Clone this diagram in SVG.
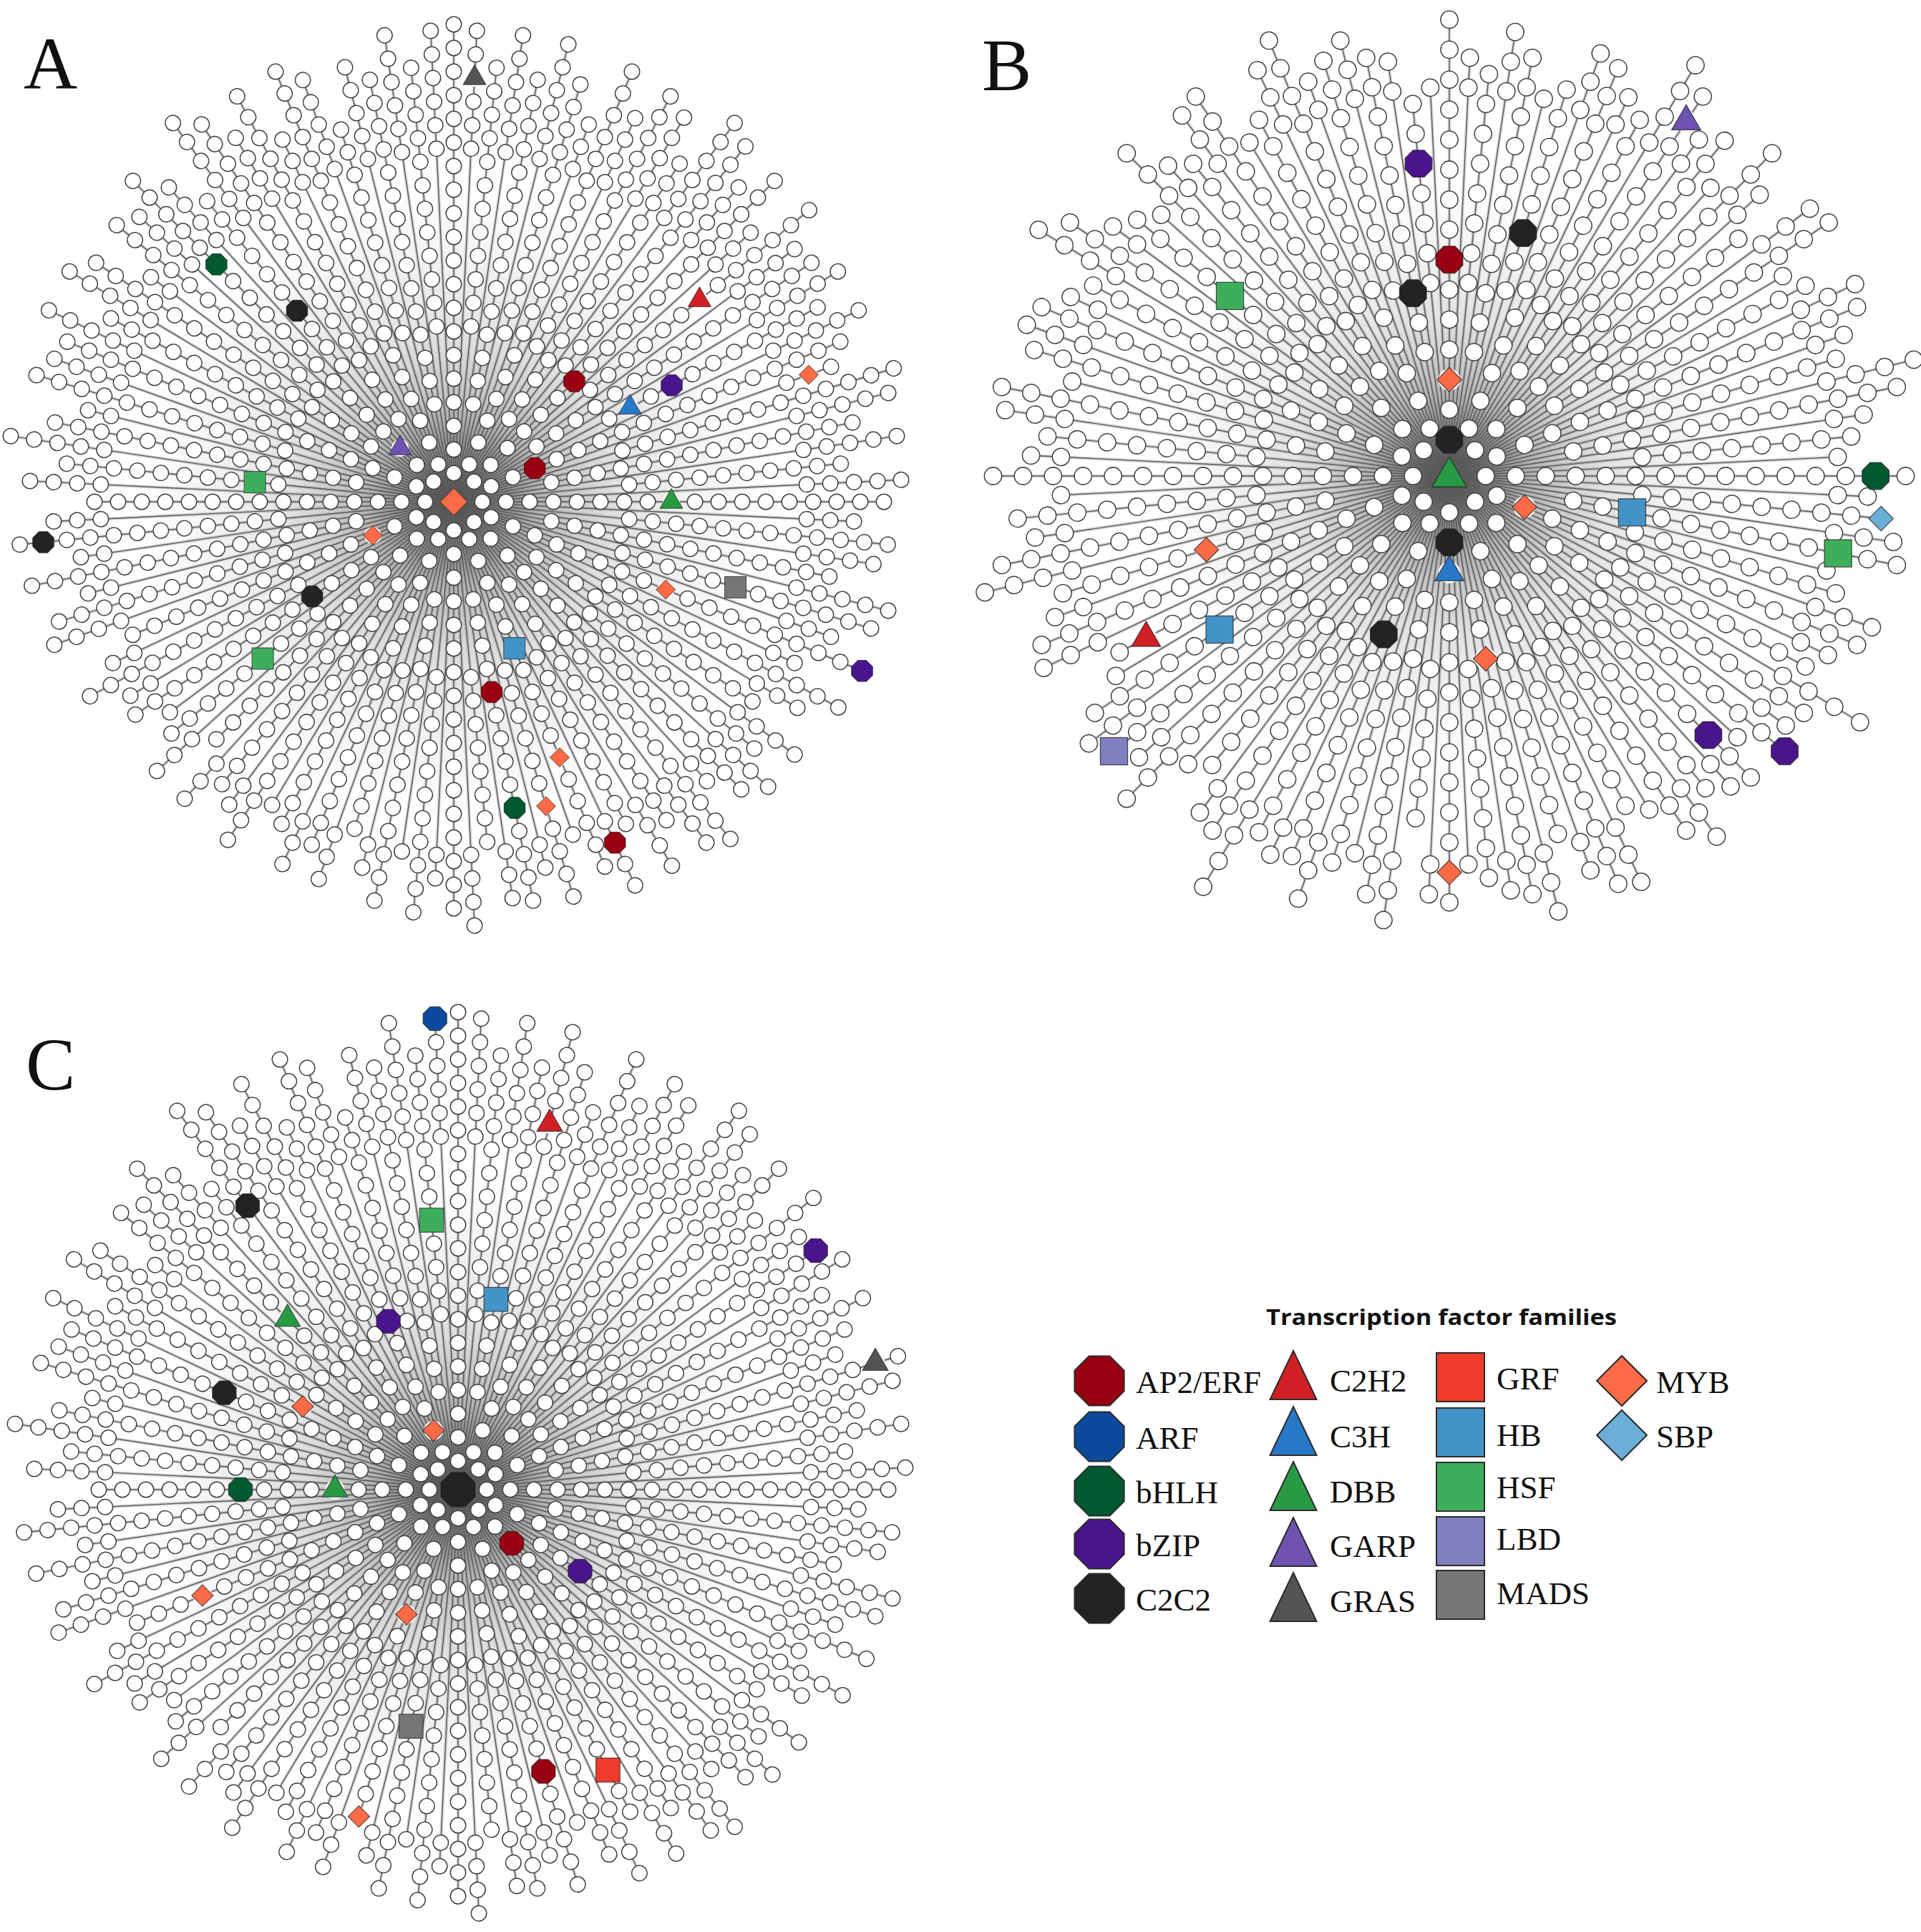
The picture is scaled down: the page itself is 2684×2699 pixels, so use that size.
<svg xmlns="http://www.w3.org/2000/svg" width="2684" height="2699" viewBox="0 0 2684 2699">
<style>
text{font-family:"Liberation Serif","Times New Roman",serif;fill:#111;stroke:none}
.lab{font-size:45px}
.pl{font-size:104px}
.ttl{font-family:"Open Sans","Liberation Sans",Arial,sans-serif;font-weight:700;font-size:31px}
.bund{stroke:#8a8a8a;stroke-width:4.5;stroke-opacity:.33;fill:none}
.conn{stroke:#585858;stroke-width:1.4;fill:none}
.bB{stroke-width:3.6}
.bC{stroke-width:1.1}
.nO,.nF{stroke-linecap:round;fill:none;stroke-dasharray:0 33 0 33 0 33 0 33 0 33 0 33 0 33 0 33 0 33 0 33 0 33 0 33 0 33 0 33 0 33 0 33 0 33 0 33 0 33 0 1000}
.nO{stroke:#424242;stroke-width:23}
.nF{stroke:#fff;stroke-width:20}
.bO{stroke-width:20.3}
.bF{stroke-width:17.9}
.l0{stroke-dashoffset:1587}
.l1{stroke-dashoffset:1570.5}
.l2{stroke-dashoffset:1488}
.l3{stroke-dashoffset:1380.75}
.l4{stroke-dashoffset:1133.25}
.m3{stroke-dashoffset:1413.75}
.m4{stroke-dashoffset:1199.25}
.tf{stroke:#222;stroke-width:1;stroke-opacity:.75}
.lg{stroke:#2b2b2b;stroke-width:2}
</style>
<defs>
<radialGradient id="fz"><stop offset="0" stop-color="#2a2a2a" stop-opacity="1"/><stop offset=".1" stop-color="#404040" stop-opacity=".8"/><stop offset=".25" stop-color="#707070" stop-opacity=".5"/><stop offset=".5" stop-color="#909090" stop-opacity=".26"/><stop offset=".8" stop-color="#b0b0b0" stop-opacity=".1"/><stop offset="1" stop-color="#fff" stop-opacity="0"/></radialGradient>
<polygon id="oct" points="14.8,6.1 6.1,14.8 -6.1,14.8 -14.8,6.1 -14.8,-6.1 -6.1,-14.8 6.1,-14.8 14.8,-6.1"/>
<g id="tri"><circle r="12" fill="#fff" stroke="none"/><polygon points="0,-18.5 16,9.2 -16,9.2"/></g>
<rect id="sq" x="-15" y="-15" width="30" height="30"/>
<g id="dia"><circle r="12" fill="#fff" stroke="none"/><polygon points="0,-13.5 13.5,0 0,13.5 -13.5,0"/></g>
<polygon id="loct" points="34.6,14.4 14.4,34.6 -14.4,34.6 -34.6,14.4 -34.6,-14.4 -14.4,-34.6 14.4,-34.6 34.6,-14.4"/>
<polygon id="ltri" points="0,-36 32.5,32 -32.5,32"/>
<rect id="lsq" x="-33.5" y="-34" width="67" height="68"/>
<polygon id="ldia" points="0,-35 35,0 0,35 -35,0"/>
<g id="rA">
<line class="l0" x2="601.5"/>
<line class="l4" x2="560.25" transform="rotate(2.81)"/>
<line class="l3" x2="609.75" transform="rotate(5.63)"/>
<line class="l4" x2="593.25" transform="rotate(8.44)"/>
<line class="l2" x2="535.5" transform="rotate(11.25)"/>
<line class="l4" x2="626.25" transform="rotate(14.06)"/>
<line class="l3" x2="609.75" transform="rotate(16.88)"/>
<line class="l4" x2="560.25" transform="rotate(19.69)"/>
<line class="l1" x2="618" transform="rotate(22.5)"/>
<line class="l4" x2="527.25" transform="rotate(25.31)"/>
<line class="l3" x2="609.75" transform="rotate(28.13)"/>
<line class="l4" x2="560.25" transform="rotate(30.94)"/>
<line class="l2" x2="502.5" transform="rotate(33.75)"/>
<line class="l4" x2="593.25" transform="rotate(36.56)"/>
<line class="l3" x2="543.75" transform="rotate(39.38)"/>
<line class="l4" x2="593.25" transform="rotate(42.19)"/>
<line class="l0" x2="568.5" transform="rotate(45)"/>
<line class="l4" x2="527.25" transform="rotate(47.81)"/>
<line class="l3" x2="609.75" transform="rotate(50.63)"/>
<line class="l4" x2="593.25" transform="rotate(53.44)"/>
<line class="l2" x2="535.5" transform="rotate(56.25)"/>
<line class="l4" x2="593.25" transform="rotate(59.06)"/>
<line class="l3" x2="510.75" transform="rotate(61.88)"/>
<line class="l4" x2="593.25" transform="rotate(64.69)"/>
<line class="l1" x2="552" transform="rotate(67.5)"/>
<line class="l4" x2="494.25" transform="rotate(70.31)"/>
<line class="l3" x2="576.75" transform="rotate(73.13)"/>
<line class="l4" x2="527.25" transform="rotate(75.94)"/>
<line class="l2" x2="568.5" transform="rotate(78.75)"/>
<line class="l4" x2="560.25" transform="rotate(81.56)"/>
<line class="l3" x2="477.75" transform="rotate(84.38)"/>
<line class="l4" x2="593.25" transform="rotate(87.19)"/>
<line class="l0" x2="568.5" transform="rotate(90)"/>
<line class="l4" x2="527.25" transform="rotate(92.81)"/>
<line class="l3" x2="576.75" transform="rotate(95.63)"/>
<line class="l4" x2="494.25" transform="rotate(98.44)"/>
<line class="l2" x2="568.5" transform="rotate(101.25)"/>
<line class="l4" x2="527.25" transform="rotate(104.06)"/>
<line class="l3" x2="477.75" transform="rotate(106.88)"/>
<line class="l4" x2="560.25" transform="rotate(109.69)"/>
<line class="l1" x2="519" transform="rotate(112.5)"/>
<line class="l4" x2="560.25" transform="rotate(115.31)"/>
<line class="l3" x2="510.75" transform="rotate(118.13)"/>
<line class="l4" x2="494.25" transform="rotate(120.94)"/>
<line class="l2" x2="568.5" transform="rotate(123.75)"/>
<line class="l4" x2="527.25" transform="rotate(126.56)"/>
<line class="l3" x2="510.75" transform="rotate(129.38)"/>
<line class="l4" x2="560.25" transform="rotate(132.19)"/>
<line class="l0" x2="469.5" transform="rotate(135)"/>
<line class="l4" x2="560.25" transform="rotate(137.81)"/>
<line class="l3" x2="510.75" transform="rotate(140.63)"/>
<line class="l4" x2="494.25" transform="rotate(143.44)"/>
<line class="l2" x2="535.5" transform="rotate(146.25)"/>
<line class="l4" x2="527.25" transform="rotate(149.06)"/>
<line class="l3" x2="576.75" transform="rotate(151.88)"/>
<line class="l4" x2="527.25" transform="rotate(154.69)"/>
<line class="l1" x2="486" transform="rotate(157.5)"/>
<line class="l4" x2="593.25" transform="rotate(160.31)"/>
<line class="l3" x2="576.75" transform="rotate(163.13)"/>
<line class="l4" x2="527.25" transform="rotate(165.94)"/>
<line class="l2" x2="601.5" transform="rotate(168.75)"/>
<line class="l4" x2="527.25" transform="rotate(171.56)"/>
<line class="l3" x2="609.75" transform="rotate(174.38)"/>
<line class="l4" x2="560.25" transform="rotate(177.19)"/>
<line class="l0" x2="502.5" transform="rotate(180)"/>
<line class="l4" x2="593.25" transform="rotate(182.81)"/>
<line class="l3" x2="543.75" transform="rotate(185.63)"/>
<line class="l4" x2="626.25" transform="rotate(188.44)"/>
<line class="l2" x2="568.5" transform="rotate(191.25)"/>
<line class="l4" x2="527.25" transform="rotate(194.06)"/>
<line class="l3" x2="609.75" transform="rotate(196.88)"/>
<line class="l4" x2="593.25" transform="rotate(199.69)"/>
<line class="l1" x2="585" transform="rotate(202.5)"/>
<line class="l4" x2="626.25" transform="rotate(205.31)"/>
<line class="l3" x2="543.75" transform="rotate(208.13)"/>
<line class="l4" x2="626.25" transform="rotate(210.94)"/>
<line class="l2" x2="601.5" transform="rotate(213.75)"/>
<line class="l4" x2="527.25" transform="rotate(216.56)"/>
<line class="l3" x2="609.75" transform="rotate(219.38)"/>
<line class="l4" x2="593.25" transform="rotate(222.19)"/>
<line class="l0" x2="634.5" transform="rotate(225)"/>
<line class="l4" x2="593.25" transform="rotate(227.81)"/>
<line class="l3" x2="543.75" transform="rotate(230.63)"/>
<line class="l4" x2="659.25" transform="rotate(233.44)"/>
<line class="l2" x2="634.5" transform="rotate(236.25)"/>
<line class="l4" x2="593.25" transform="rotate(239.06)"/>
<line class="l3" x2="642.75" transform="rotate(241.88)"/>
<line class="l4" x2="560.25" transform="rotate(244.69)"/>
<line class="l1" x2="651" transform="rotate(247.5)"/>
<line class="l4" x2="626.25" transform="rotate(250.31)"/>
<line class="l3" x2="543.75" transform="rotate(253.13)"/>
<line class="l4" x2="626.25" transform="rotate(255.94)"/>
<line class="l2" x2="601.5" transform="rotate(258.75)"/>
<line class="l4" x2="659.25" transform="rotate(261.56)"/>
<line class="l3" x2="609.75" transform="rotate(264.38)"/>
<line class="l4" x2="659.25" transform="rotate(267.19)"/>
<line class="l0" x2="667.5" transform="rotate(270)"/>
<line class="l4" x2="659.25" transform="rotate(272.81)"/>
<line class="l3" x2="609.75" transform="rotate(275.63)"/>
<line class="l4" x2="659.25" transform="rotate(278.44)"/>
<line class="l2" x2="601.5" transform="rotate(281.25)"/>
<line class="l4" x2="659.25" transform="rotate(284.06)"/>
<line class="l3" x2="609.75" transform="rotate(286.88)"/>
<line class="l4" x2="560.25" transform="rotate(289.69)"/>
<line class="l1" x2="651" transform="rotate(292.5)"/>
<line class="l4" x2="593.25" transform="rotate(295.31)"/>
<line class="l3" x2="642.75" transform="rotate(298.13)"/>
<line class="l4" x2="626.25" transform="rotate(300.94)"/>
<line class="l2" x2="568.5" transform="rotate(303.75)"/>
<line class="l4" x2="659.25" transform="rotate(306.56)"/>
<line class="l3" x2="642.75" transform="rotate(309.38)"/>
<line class="l4" x2="593.25" transform="rotate(312.19)"/>
<line class="l0" x2="634.5" transform="rotate(315)"/>
<line class="l4" x2="560.25" transform="rotate(317.81)"/>
<line class="l3" x2="642.75" transform="rotate(320.63)"/>
<line class="l4" x2="593.25" transform="rotate(323.44)"/>
<line class="l2" x2="601.5" transform="rotate(326.25)"/>
<line class="l4" x2="626.25" transform="rotate(329.06)"/>
<line class="l3" x2="576.75" transform="rotate(331.88)"/>
<line class="l4" x2="626.25" transform="rotate(334.69)"/>
<line class="l1" x2="585" transform="rotate(337.5)"/>
<line class="l4" x2="560.25" transform="rotate(340.31)"/>
<line class="l3" x2="642.75" transform="rotate(343.13)"/>
<line class="l4" x2="626.25" transform="rotate(345.94)"/>
<line class="l2" x2="568.5" transform="rotate(348.75)"/>
<line class="l4" x2="626.25" transform="rotate(351.56)"/>
<line class="l3" x2="543.75" transform="rotate(354.38)"/>
<line class="l4" x2="626.25" transform="rotate(357.19)"/>
</g>
<g id="rB">
<line class="l0" x2="502.5"/>
<line class="m3" x2="477.75" transform="rotate(5.63)"/>
<line class="l2" x2="502.5" transform="rotate(11.25)"/>
<line class="m3" x2="444.75" transform="rotate(16.88)"/>
<line class="l1" x2="486" transform="rotate(22.5)"/>
<line class="m3" x2="444.75" transform="rotate(28.13)"/>
<line class="l2" x2="469.5" transform="rotate(33.75)"/>
<line class="m3" x2="477.75" transform="rotate(39.38)"/>
<line class="l0" x2="469.5" transform="rotate(45)"/>
<line class="m3" x2="444.75" transform="rotate(50.63)"/>
<line class="l2" x2="469.5" transform="rotate(56.25)"/>
<line class="m3" x2="411.75" transform="rotate(61.88)"/>
<line class="l1" x2="486" transform="rotate(67.5)"/>
<line class="m3" x2="411.75" transform="rotate(73.13)"/>
<line class="l2" x2="469.5" transform="rotate(78.75)"/>
<line class="m3" x2="444.75" transform="rotate(84.38)"/>
<line class="l0" x2="469.5" transform="rotate(90)"/>
<line class="m3" x2="378.75" transform="rotate(95.63)"/>
<line class="l2" x2="469.5" transform="rotate(101.25)"/>
<line class="m3" x2="444.75" transform="rotate(106.88)"/>
<line class="l1" x2="453" transform="rotate(112.5)"/>
<line class="m3" x2="444.75" transform="rotate(118.13)"/>
<line class="l2" x2="469.5" transform="rotate(123.75)"/>
<line class="m3" x2="411.75" transform="rotate(129.38)"/>
<line class="l0" x2="502.5" transform="rotate(135)"/>
<line class="m3" x2="477.75" transform="rotate(140.63)"/>
<line class="l2" x2="469.5" transform="rotate(146.25)"/>
<line class="m3" x2="411.75" transform="rotate(151.88)"/>
<line class="l1" x2="486" transform="rotate(157.5)"/>
<line class="m3" x2="444.75" transform="rotate(163.13)"/>
<line class="l2" x2="502.5" transform="rotate(168.75)"/>
<line class="m3" x2="477.75" transform="rotate(174.38)"/>
<line class="l0" x2="502.5" transform="rotate(180)"/>
<line class="m3" x2="444.75" transform="rotate(185.63)"/>
<line class="l2" x2="502.5" transform="rotate(191.25)"/>
<line class="m3" x2="477.75" transform="rotate(196.88)"/>
<line class="l1" x2="486" transform="rotate(202.5)"/>
<line class="m3" x2="444.75" transform="rotate(208.13)"/>
<line class="l2" x2="502.5" transform="rotate(213.75)"/>
<line class="m3" x2="444.75" transform="rotate(219.38)"/>
<line class="l0" x2="502.5" transform="rotate(225)"/>
<line class="m3" x2="444.75" transform="rotate(230.63)"/>
<line class="l2" x2="502.5" transform="rotate(236.25)"/>
<line class="m3" x2="444.75" transform="rotate(241.88)"/>
<line class="l1" x2="519" transform="rotate(247.5)"/>
<line class="m3" x2="477.75" transform="rotate(253.13)"/>
<line class="l2" x2="469.5" transform="rotate(258.75)"/>
<line class="m3" x2="411.75" transform="rotate(264.38)"/>
<line class="l0" x2="502.5" transform="rotate(270)"/>
<line class="m3" x2="444.75" transform="rotate(275.63)"/>
<line class="l2" x2="469.5" transform="rotate(281.25)"/>
<line class="m3" x2="444.75" transform="rotate(286.88)"/>
<line class="l1" x2="486" transform="rotate(292.5)"/>
<line class="m3" x2="444.75" transform="rotate(298.13)"/>
<line class="l2" x2="502.5" transform="rotate(303.75)"/>
<line class="m3" x2="477.75" transform="rotate(309.38)"/>
<line class="l0" x2="502.5" transform="rotate(315)"/>
<line class="m3" x2="411.75" transform="rotate(320.63)"/>
<line class="l2" x2="502.5" transform="rotate(326.25)"/>
<line class="m3" x2="444.75" transform="rotate(331.88)"/>
<line class="l1" x2="486" transform="rotate(337.5)"/>
<line class="m3" x2="444.75" transform="rotate(343.13)"/>
<line class="l2" x2="502.5" transform="rotate(348.75)"/>
<line class="m3" x2="444.75" transform="rotate(354.38)"/>
<line class="m4" x2="461.25" transform="rotate(2.81)"/>
<line class="m4" x2="494.25" transform="rotate(8.44)"/>
<line class="m4" x2="428.25" transform="rotate(14.06)"/>
<line class="m4" x2="494.25" transform="rotate(19.69)"/>
<line class="m4" x2="461.25" transform="rotate(25.31)"/>
<line class="m4" x2="527.25" transform="rotate(30.94)"/>
<line class="m4" x2="461.25" transform="rotate(36.56)"/>
<line class="m4" x2="428.25" transform="rotate(42.19)"/>
<line class="m4" x2="461.25" transform="rotate(47.81)"/>
<line class="m4" x2="494.25" transform="rotate(53.44)"/>
<line class="m4" x2="428.25" transform="rotate(59.06)"/>
<line class="m4" x2="494.25" transform="rotate(64.69)"/>
<line class="m4" x2="461.25" transform="rotate(70.31)"/>
<line class="m4" x2="494.25" transform="rotate(75.94)"/>
<line class="m4" x2="461.25" transform="rotate(81.56)"/>
<line class="m4" x2="428.25" transform="rotate(87.19)"/>
<line class="m4" x2="461.25" transform="rotate(92.81)"/>
<line class="m4" x2="494.25" transform="rotate(98.44)"/>
<line class="m4" x2="428.25" transform="rotate(104.06)"/>
<line class="m4" x2="494.25" transform="rotate(109.69)"/>
<line class="m4" x2="461.25" transform="rotate(115.31)"/>
<line class="m4" x2="527.25" transform="rotate(120.94)"/>
<line class="m4" x2="461.25" transform="rotate(126.56)"/>
<line class="m4" x2="428.25" transform="rotate(132.19)"/>
<line class="m4" x2="461.25" transform="rotate(137.81)"/>
<line class="m4" x2="494.25" transform="rotate(143.44)"/>
<line class="m4" x2="428.25" transform="rotate(149.06)"/>
<line class="m4" x2="494.25" transform="rotate(154.69)"/>
<line class="m4" x2="461.25" transform="rotate(160.31)"/>
<line class="m4" x2="527.25" transform="rotate(165.94)"/>
<line class="m4" x2="461.25" transform="rotate(171.56)"/>
<line class="m4" x2="428.25" transform="rotate(177.19)"/>
<line class="m4" x2="461.25" transform="rotate(182.81)"/>
<line class="m4" x2="494.25" transform="rotate(188.44)"/>
<line class="m4" x2="428.25" transform="rotate(194.06)"/>
<line class="m4" x2="494.25" transform="rotate(199.69)"/>
<line class="m4" x2="461.25" transform="rotate(205.31)"/>
<line class="m4" x2="527.25" transform="rotate(210.94)"/>
<line class="m4" x2="461.25" transform="rotate(216.56)"/>
<line class="m4" x2="428.25" transform="rotate(222.19)"/>
<line class="m4" x2="461.25" transform="rotate(227.81)"/>
<line class="m4" x2="494.25" transform="rotate(233.44)"/>
<line class="m4" x2="428.25" transform="rotate(239.06)"/>
<line class="m4" x2="494.25" transform="rotate(244.69)"/>
<line class="m4" x2="461.25" transform="rotate(250.31)"/>
<line class="m4" x2="494.25" transform="rotate(255.94)"/>
<line class="m4" x2="461.25" transform="rotate(261.56)"/>
<line class="m4" x2="428.25" transform="rotate(267.19)"/>
<line class="m4" x2="461.25" transform="rotate(272.81)"/>
<line class="m4" x2="494.25" transform="rotate(278.44)"/>
<line class="m4" x2="428.25" transform="rotate(284.06)"/>
<line class="m4" x2="494.25" transform="rotate(289.69)"/>
<line class="m4" x2="461.25" transform="rotate(295.31)"/>
<line class="m4" x2="527.25" transform="rotate(300.94)"/>
<line class="m4" x2="461.25" transform="rotate(306.56)"/>
<line class="m4" x2="428.25" transform="rotate(312.19)"/>
<line class="m4" x2="461.25" transform="rotate(317.81)"/>
<line class="m4" x2="494.25" transform="rotate(323.44)"/>
<line class="m4" x2="428.25" transform="rotate(329.06)"/>
<line class="m4" x2="494.25" transform="rotate(334.69)"/>
<line class="m4" x2="461.25" transform="rotate(340.31)"/>
<line class="m4" x2="527.25" transform="rotate(345.94)"/>
<line class="m4" x2="461.25" transform="rotate(351.56)"/>
<line class="m4" x2="428.25" transform="rotate(357.19)"/>
</g>
</defs>
<rect width="2684" height="2699" fill="#fff"/>
<g id="density-shading">
<circle cx="634" cy="701" r="470" fill="url(#fz)"/>
<circle cx="2025" cy="665" r="440" fill="url(#fz)"/>
<circle cx="640" cy="2081" r="470" fill="url(#fz)"/>
</g>
<g id="connectors">
<use href="#rA" class="bund" transform="translate(634,701)"/>
<use href="#rB" class="bund bB" transform="translate(2025,665) scale(1.27)"/>
<use href="#rA" class="bund" transform="translate(640,2081)"/>
<use href="#rA" class="conn" transform="translate(634,701)"/>
<use href="#rB" class="conn bC" transform="translate(2025,665) scale(1.27)"/>
<use href="#rA" class="conn" transform="translate(640,2081)"/>
</g>
<g id="A-nodes" transform="translate(634,701)"><use href="#rA" class="nO"/><use href="#rA" class="nF"/></g>
<g id="B-nodes" transform="translate(2025,665) scale(1.27)"><use href="#rB" class="nO bO"/><use href="#rB" class="nF bF"/></g>
<g id="C-nodes" transform="translate(640,2081)"><use href="#rA" class="nO"/><use href="#rA" class="nF"/></g>

<g id="A-tf" class="tf" transform="translate(634,701)">
<g id="A-n1" transform="rotate(272.81) translate(592.75) rotate(-272.81)"><use href="#tri" fill="#545454"/></g>
<g id="A-n2" transform="rotate(225) translate(469) rotate(-225)"><use href="#oct" fill="#00592f"/></g>
<g id="A-n3" transform="rotate(230.63) translate(345.25) rotate(-230.63)"><use href="#oct" fill="#232323"/></g>
<g id="A-n4" transform="rotate(320.63) translate(444.25) rotate(-320.63)"><use href="#tri" fill="#d21f26"/></g>
<g id="A-n5" transform="rotate(340.31) translate(526.75) rotate(-340.31)"><use href="#dia" fill="#fd6a46"/></g>
<g id="A-n6" transform="rotate(315) translate(238) rotate(-315)"><use href="#oct" fill="#990011"/></g>
<g id="A-n7" transform="rotate(331.88) translate(279.25) rotate(-331.88)"><use href="#tri" fill="#2878c8"/></g>
<g id="A-n8" transform="rotate(331.88) translate(345.25) rotate(-331.88)"><use href="#oct" fill="#4a148c"/></g>
<g id="A-n9" transform="rotate(225) translate(106) rotate(-225)"><use href="#tri" fill="#7052b0"/></g>
<g id="A-n10" transform="rotate(337.5) translate(122.5) rotate(-337.5)"><use href="#oct" fill="#990011"/></g>
<g id="A-n11" transform="rotate(185.63) translate(279.25) rotate(-185.63)"><use href="#sq" fill="#3fae5c"/></g>
<g id="A-n12" transform="translate(304,0)"><use href="#tri" fill="#289a44"/></g>
<g id="A-n13" transform="rotate(174.38) translate(576.25) rotate(-174.38)"><use href="#oct" fill="#232323"/></g>
<g id="A-n14" transform="rotate(157.5) translate(122.5) rotate(-157.5)"><use href="#dia" fill="#fd6a46"/></g>
<g id="A-n15" transform="rotate(16.88) translate(411.25) rotate(-16.88)"><use href="#sq" fill="#767676"/></g>
<g id="A-n16" transform="rotate(22.5) translate(320.5) rotate(-22.5)"><use href="#dia" fill="#fd6a46"/></g>
<g id="A-n17" transform="rotate(146.25) translate(238) rotate(-146.25)"><use href="#oct" fill="#232323"/></g>
<g id="A-n18" transform="rotate(67.5) translate(221.5) rotate(-67.5)"><use href="#sq" fill="#4393c8"/></g>
<g id="A-n19" transform="rotate(140.63) translate(345.25) rotate(-140.63)"><use href="#sq" fill="#3fae5c"/></g>
<g id="A-n20" transform="rotate(22.5) translate(617.5) rotate(-22.5)"><use href="#oct" fill="#4a148c"/></g>
<g id="A-n21" transform="rotate(78.75) translate(271) rotate(-78.75)"><use href="#oct" fill="#990011"/></g>
<g id="A-n22" transform="rotate(67.5) translate(386.5) rotate(-67.5)"><use href="#dia" fill="#fd6a46"/></g>
<g id="A-n23" transform="rotate(78.75) translate(436) rotate(-78.75)"><use href="#oct" fill="#00592f"/></g>
<g id="A-n24" transform="rotate(73.13) translate(444.25) rotate(-73.13)"><use href="#dia" fill="#fd6a46"/></g>
<g id="A-n25" transform="rotate(64.69) translate(526.75) rotate(-64.69)"><use href="#oct" fill="#990011"/></g>
<g id="A-hub"><polygon points="0,-19 19,0 0,19 -19,0" fill="#fd6a46"/></g>
</g>

<g id="B-tf" class="tf" transform="translate(2025,665) scale(1.27)">
<g id="B-n1" transform="rotate(303.75) translate(469) rotate(-303.75)"><use href="#tri" fill="#7052b0"/></g>
<g id="B-n2" transform="rotate(264.38) translate(345.25) rotate(-264.38)"><use href="#oct" fill="#4a148c"/></g>
<g id="B-n3" transform="rotate(286.88) translate(279.25) rotate(-286.88)"><use href="#oct" fill="#232323"/></g>
<g id="B-n4" transform="translate(0,-238)"><use href="#oct" fill="#990011"/></g>
<g id="B-n5" transform="translate(0,-106)"><use href="#dia" fill="#fd6a46"/></g>
<g id="B-n6" transform="translate(0,-40)"><use href="#oct" fill="#232323"/></g>
<g id="B-n7" transform="rotate(258.75) translate(205) rotate(-258.75)"><use href="#oct" fill="#232323"/></g>
<g id="B-n8" transform="rotate(219.38) translate(312.25) rotate(-219.38)"><use href="#sq" fill="#3fae5c"/></g>
<g id="B-n9" transform="translate(0,73)"><use href="#oct" fill="#232323"/></g>
<g id="B-n10" transform="translate(0,106)"><use href="#tri" fill="#2878c8"/></g>
<g id="B-n11" transform="translate(0,436)"><use href="#dia" fill="#fd6a46"/></g>
<g id="B-n12" transform="rotate(22.5) translate(89.5) rotate(-22.5)"><use href="#dia" fill="#fd6a46"/></g>
<g id="B-n13" transform="rotate(11.25) translate(205) rotate(-11.25)"><use href="#sq" fill="#4393c8"/></g>
<g id="B-n14" transform="rotate(11.25) translate(436) rotate(-11.25)"><use href="#sq" fill="#3fae5c"/></g>
<g id="B-n15" transform="translate(469,0)"><use href="#oct" fill="#00592f"/></g>
<g id="B-n16" transform="rotate(5.63) translate(477.25) rotate(-5.63)"><use href="#dia" fill="#6baed8"/></g>
<g id="B-n17" transform="rotate(163.13) translate(279.25) rotate(-163.13)"><use href="#dia" fill="#fd6a46"/></g>
<g id="B-n18" transform="rotate(146.25) translate(304) rotate(-146.25)"><use href="#sq" fill="#4393c8"/></g>
<g id="B-n19" transform="rotate(151.88) translate(378.25) rotate(-151.88)"><use href="#tri" fill="#d21f26"/></g>
<g id="B-n20" transform="rotate(112.5) translate(188.5) rotate(-112.5)"><use href="#oct" fill="#232323"/></g>
<g id="B-n21" transform="rotate(78.75) translate(205) rotate(-78.75)"><use href="#dia" fill="#fd6a46"/></g>
<g id="B-n22" transform="rotate(140.63) translate(477.25) rotate(-140.63)"><use href="#sq" fill="#8080c0"/></g>
<g id="B-n23" transform="rotate(45) translate(403) rotate(-45)"><use href="#oct" fill="#4a148c"/></g>
<g id="B-n24" transform="rotate(39.38) translate(477.25) rotate(-39.38)"><use href="#oct" fill="#4a148c"/></g>
<g id="B-hub"><polygon points="0,-21 19,12 -19,12" fill="#289a44"/></g>
</g>

<g id="C-tf" class="tf" transform="translate(640,2081)">
<g id="C-n1" transform="rotate(267.19) translate(658.75) rotate(-267.19) scale(1.12)"><use href="#oct" fill="#0b4a9c"/></g>
<g id="C-n2" transform="rotate(284.06) translate(526.75) rotate(-284.06) scale(1.12)"><use href="#tri" fill="#d21f26"/></g>
<g id="C-n3" transform="rotate(233.44) translate(493.75) rotate(-233.44) scale(1.12)"><use href="#oct" fill="#232323"/></g>
<g id="C-n4" transform="rotate(264.38) translate(378.25) rotate(-264.38) scale(1.12)"><use href="#sq" fill="#3fae5c"/></g>
<g id="C-n5" transform="rotate(326.25) translate(601) rotate(-326.25) scale(1.12)"><use href="#oct" fill="#4a148c"/></g>
<g id="C-n6" transform="rotate(281.25) translate(271) rotate(-281.25) scale(1.12)"><use href="#sq" fill="#4393c8"/></g>
<g id="C-n7" transform="rotate(225) translate(337) rotate(-225) scale(1.12)"><use href="#tri" fill="#289a44"/></g>
<g id="C-n8" transform="rotate(247.5) translate(254.5) rotate(-247.5) scale(1.12)"><use href="#oct" fill="#4a148c"/></g>
<g id="C-n9" transform="rotate(343.13) translate(609.25) rotate(-343.13) scale(1.12)"><use href="#tri" fill="#545454"/></g>
<g id="C-n10" transform="rotate(202.5) translate(353.5) rotate(-202.5) scale(1.12)"><use href="#oct" fill="#232323"/></g>
<g id="C-n11" transform="rotate(208.13) translate(246.25) rotate(-208.13) scale(1.12)"><use href="#dia" fill="#fd6a46"/></g>
<g id="C-n12" transform="rotate(247.5) translate(89.5) rotate(-247.5) scale(1.12)"><use href="#dia" fill="#fd6a46"/></g>
<g id="C-n13" transform="translate(-304,0) scale(1.12)"><use href="#oct" fill="#00592f"/></g>
<g id="C-n14" transform="translate(-172,0) scale(1.12)"><use href="#tri" fill="#289a44"/></g>
<g id="C-n15" transform="rotate(45) translate(106) rotate(-45) scale(1.12)"><use href="#oct" fill="#990011"/></g>
<g id="C-n16" transform="rotate(33.75) translate(205) rotate(-33.75) scale(1.12)"><use href="#oct" fill="#4a148c"/></g>
<g id="C-n17" transform="rotate(157.5) translate(386.5) rotate(-157.5) scale(1.12)"><use href="#dia" fill="#fd6a46"/></g>
<g id="C-n18" transform="rotate(112.5) translate(188.5) rotate(-112.5) scale(1.12)"><use href="#dia" fill="#fd6a46"/></g>
<g id="C-n19" transform="rotate(101.25) translate(337) rotate(-101.25) scale(1.12)"><use href="#sq" fill="#767676"/></g>
<g id="C-n20" transform="rotate(61.88) translate(444.25) rotate(-61.88) scale(1.12)"><use href="#sq" fill="#ee3b2b"/></g>
<g id="C-n21" transform="rotate(73.13) translate(411.25) rotate(-73.13) scale(1.12)"><use href="#oct" fill="#990011"/></g>
<g id="C-n22" transform="rotate(106.88) translate(477.25) rotate(-106.88) scale(1.12)"><use href="#dia" fill="#fd6a46"/></g>
<g id="C-hub"><polygon points="24,10 10,24 -10,24 -24,10 -24,-10 -10,-24 10,-24 24,-10" fill="#232323"/></g>
</g>

<g id="panel-labels">
<text class="pl" x="33" y="124">A</text>
<text class="pl" x="1372" y="126">B</text>
<text class="pl" x="36" y="1522">C</text>
</g>

<g id="legend">
<text class="ttl" x="2014" y="1851" text-anchor="middle" textLength="490" lengthAdjust="spacingAndGlyphs">Transcription factor families</text>
<g class="lg">
<use href="#loct" x="1536" y="1929" fill="#990011"/>
<use href="#loct" x="1536" y="2007" fill="#0b4a9c"/>
<use href="#loct" x="1536" y="2083" fill="#00592f"/>
<use href="#loct" x="1536" y="2157" fill="#4a148c"/>
<use href="#loct" x="1536" y="2233" fill="#232323"/>
<use href="#ltri" x="1807" y="1923" fill="#d21f26"/>
<use href="#ltri" x="1807" y="2001" fill="#2878c8"/>
<use href="#ltri" x="1807" y="2078" fill="#289a44"/>
<use href="#ltri" x="1807" y="2156" fill="#7052b0"/>
<use href="#ltri" x="1807" y="2233" fill="#545454"/>
<use href="#lsq" x="2040.5" y="1924" fill="#ee3b2b"/>
<use href="#lsq" x="2040.5" y="2001" fill="#4393c8"/>
<use href="#lsq" x="2040.5" y="2077" fill="#3fae5c"/>
<use href="#lsq" x="2040.5" y="2153" fill="#8080c0"/>
<use href="#lsq" x="2040.5" y="2228" fill="#767676"/>
<use href="#ldia" x="2266" y="1929" fill="#fd6a46"/>
<use href="#ldia" x="2266" y="2005" fill="#6baed8"/>
</g>
<text class="lab" x="1587" y="1946">AP2/ERF</text>
<text class="lab" x="1587" y="2024">ARF</text>
<text class="lab" x="1587" y="2100">bHLH</text>
<text class="lab" x="1587" y="2174">bZIP</text>
<text class="lab" x="1587" y="2250">C2C2</text>
<text class="lab" x="1858" y="1944">C2H2</text>
<text class="lab" x="1858" y="2022">C3H</text>
<text class="lab" x="1858" y="2099">DBB</text>
<text class="lab" x="1858" y="2175">GARP</text>
<text class="lab" x="1858" y="2252">GRAS</text>
<text class="lab" x="2091" y="1941">GRF</text>
<text class="lab" x="2091" y="2020">HB</text>
<text class="lab" x="2091" y="2093">HSF</text>
<text class="lab" x="2091" y="2165">LBD</text>
<text class="lab" x="2091" y="2241">MADS</text>
<text class="lab" x="2314" y="1946">MYB</text>
<text class="lab" x="2314" y="2022">SBP</text>
</g>
</svg>
